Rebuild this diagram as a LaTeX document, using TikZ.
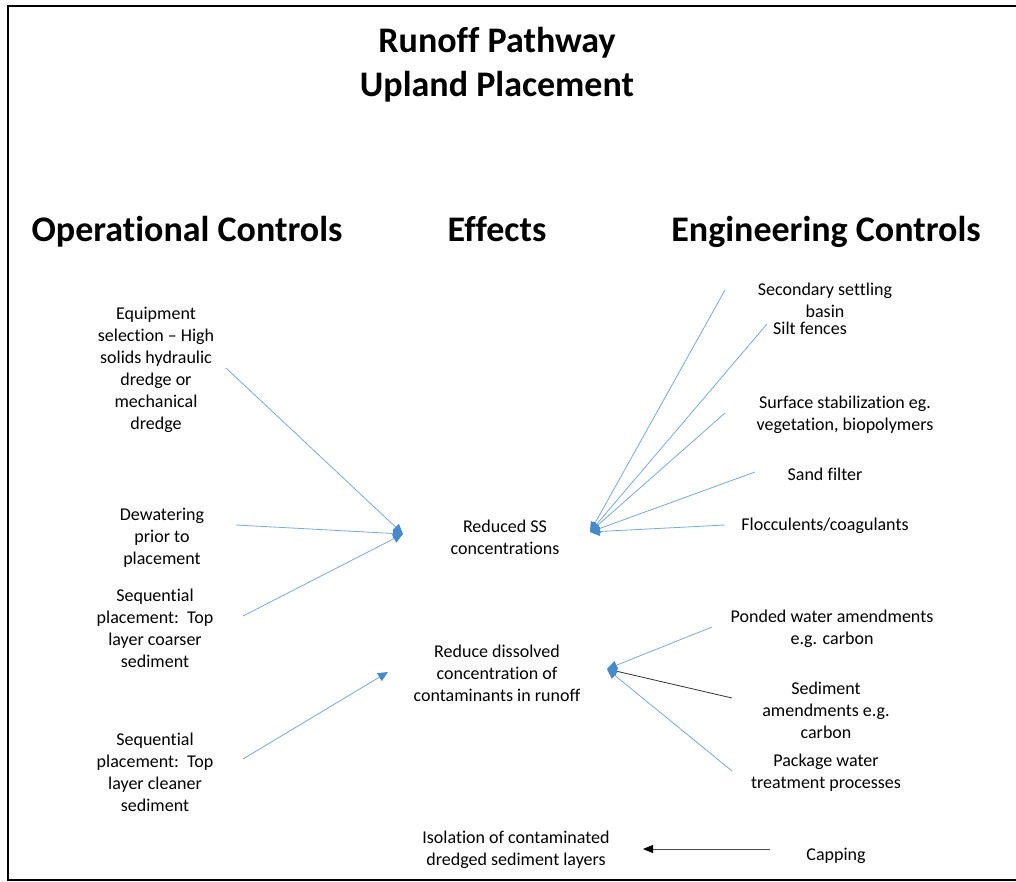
\documentclass[tikz,border=0pt]{standalone}
\usepackage{fontspec}
\setmainfont{Carlito}[Ligatures={TeX,NoCommon}]
\usetikzlibrary{arrows.meta}
\definecolor{lineblue}{RGB}{120,170,222}
\definecolor{headblue}{RGB}{70,137,205}
\begin{document}
\begin{tikzpicture}[x=1pt,y=-1pt,
  txt/.style={align=center,font=\fontsize{18}{22}\selectfont,inner sep=0pt},
  hdr/.style={align=center,font=\fontsize{36}{44}\selectfont\bfseries,inner sep=0pt},
  bluearrow/.style={draw=lineblue,line width=0.8pt,-{Triangle[length=10pt,width=9pt,color=headblue]}},
  blackarrow/.style={draw=black!80,line width=0.8pt,-{Triangle[length=10pt,width=9pt,color=headblue]}},
  caparrow/.style={draw=black!70,line width=0.9pt,-{Triangle[length=10pt,width=8pt,color=black]}}]
\useasboundingbox (0,0) rectangle (1016,882);
\draw[line width=2pt] (1030,6) -- (8,6) -- (8,880) -- (1030,880);

% titles
\node[hdr] (title) at (497,65) {Runoff Pathway\\Upland Placement};
\node[hdr] (op) at (187,232) {Operational Controls};
\node[hdr] (eff) at (497,229) {Effects};
\node[hdr] (eng) at (826,232) {Engineering Controls};

% left
\node[txt] (equip) at (156,370) {Equipment\\selection – High\\solids hydraulic\\dredge or\\mechanical\\dredge};
\node[txt] (dewat) at (162,538) {Dewatering\\prior to\\placement};
\node[txt] (coarse) at (155,628) {Sequential\\placement:\ \ Top\\layer coarser\\sediment};
\node[txt] (clean) at (155,772) {Sequential\\placement:\ \ Top\\layer cleaner\\sediment};

% middle
\node[txt] (ss) at (505,537) {Reduced SS\\concentrations};
\node[txt] (diss) at (497,673) {Reduce dissolved\\concentration of\\contaminants in runoff};
\node[txt] (iso) at (516,850) {Isolation of contaminated\\dredged sediment layers};

% right
\node[txt] (basin) at (825,300) {Secondary settling\\basin};
\node[txt] (silt) at (810,328) {Silt fences};
\node[txt] (surf) at (845,415) {Surface stabilization eg.\\vegetation, biopolymers};
\node[txt] (sand) at (825,474) {Sand filter};
\node[txt] (floc) at (825,526) {Flocculents/coagulants};
\node[txt] (pond) at (832,629) {Ponded water amendments\\e.g. carbon};
\node[txt] (sed) at (826,710) {Sediment\\amendments e.g.\\carbon};
\node[txt] (pack) at (826,773) {Package water\\treatment processes};
\node[txt] (cap) at (836,856) {Capping};

% connector end points
\coordinate (equipE) at (226,368);
\coordinate (dewatE) at (236,525);
\coordinate (coarseE) at (243,616);
\coordinate (cleanE) at (243,759);
\coordinate (ssW) at (403,534);
\coordinate (ssE) at (590,532);
\coordinate (dissW) at (388,672);
\coordinate (dissE) at (607,669);
\coordinate (basinW) at (725,290);
\coordinate (siltW) at (767,324);
\coordinate (surfW) at (725,413);
\coordinate (sandW) at (755,472);
\coordinate (flocW) at (725,525);
\coordinate (pondW) at (712,627);
\coordinate (sedW) at (732,698);
\coordinate (packW) at (732,771);
\coordinate (capW) at (770,849);
\coordinate (isoE) at (643,849);

% connectors
\draw[bluearrow] (equipE) -- (ssW);
\draw[bluearrow] (dewatE) -- (ssW);
\draw[bluearrow] (coarseE) -- (ssW);
\draw[bluearrow] (cleanE) -- (dissW);
\draw[bluearrow] (basinW) -- (ssE);
\draw[bluearrow] (siltW) -- (ssE);
\draw[bluearrow] (surfW) -- (ssE);
\draw[bluearrow] (sandW) -- (ssE);
\draw[bluearrow] (flocW) -- (ssE);
\draw[bluearrow] (pondW) -- (dissE);
\draw[blackarrow] (sedW) -- (dissE);
\draw[bluearrow] (packW) -- (dissE);
\draw[caparrow] (capW) -- (isoE);
\end{tikzpicture}
\end{document}
